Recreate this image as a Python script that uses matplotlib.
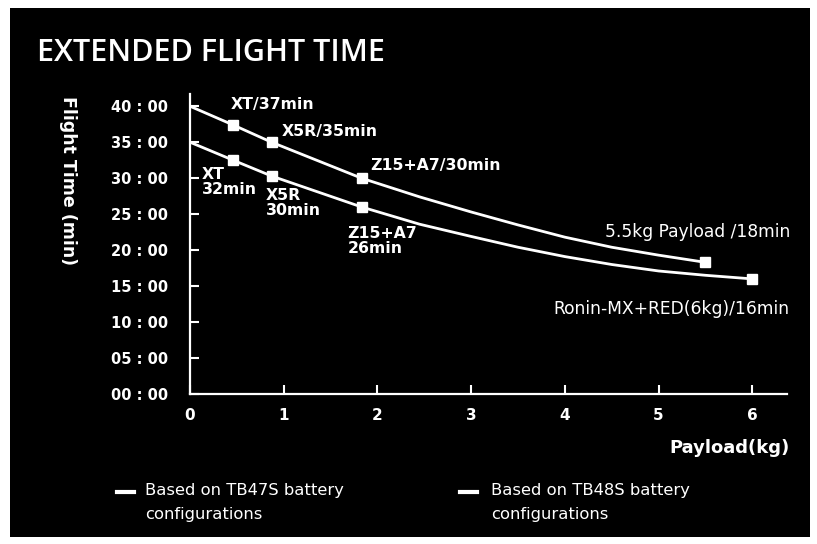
import matplotlib.pyplot as plt
from matplotlib.patches import Rectangle
from matplotlib.lines import Line2D

W, H = 817, 544

# curve samples (payload kg, flight time min)
upper_x = [0, 0.46, 0.87, 1.83, 2.45, 3.0, 3.5, 4.0, 4.5, 5.0, 5.5]
upper_y = [40, 37.4, 35, 30, 27.4, 25.3, 23.5, 21.8, 20.4, 19.3, 18.3]
lower_x = [0, 0.46, 0.87, 1.83, 2.45, 3.0, 3.5, 4.0, 4.5, 5.0, 5.5, 6.0]
lower_y = [35, 32.5, 30.3, 26, 23.6, 21.9, 20.4, 19.1, 18.0, 17.1, 16.5, 16]

# marked points
upper_mark_x = [0.46, 0.87, 1.83, 5.5]
upper_mark_y = [37.4, 35, 30, 18.3]
lower_mark_x = [0.46, 0.87, 1.83, 6.0]
lower_mark_y = [32.5, 30.3, 26, 16]

y_ticks = [0, 5, 10, 15, 20, 25, 30, 35, 40]
y_labels = ['00 : 00', '05 : 00', '10 : 00', '15 : 00', '20 : 00',
            '25 : 00', '30 : 00', '35 : 00', '40 : 00']
x_ticks = [0, 1, 2, 3, 4, 5, 6]

legend_labels = ['Based on TB47S battery\nconfigurations',
                 'Based on TB48S battery\nconfigurations']

fig = plt.figure(figsize=(W / 100, H / 100), dpi=100)
fig.patch.set_facecolor('white')

# black panel
fig.add_artist(Rectangle((10 / W, 1 - 537 / H), 800 / W, 529 / H,
                         transform=fig.transFigure, facecolor='black',
                         edgecolor='none', zorder=0))

ax = fig.add_axes([190 / W, 1 - 394 / H, 597 / W, 300 / H])
ax.set_facecolor('black')
ax.set_xlim(0, 6.37)
ax.set_ylim(0, 41.7)

ax.plot(upper_x, upper_y, color='white', lw=2, solid_joinstyle='round')
ax.plot(lower_x, lower_y, color='white', lw=2, solid_joinstyle='round')
ax.plot(upper_mark_x, upper_mark_y, 's', color='white', ms=7)
ax.plot(lower_mark_x, lower_mark_y, 's', color='white', ms=7)

for s in ['top', 'right']:
    ax.spines[s].set_visible(False)
for s in ['left', 'bottom']:
    ax.spines[s].set_color('white')
    ax.spines[s].set_linewidth(1.6)

ax.set_yticks(y_ticks)
ax.set_yticklabels(y_labels)
ax.set_xticks(x_ticks)
ax.tick_params(axis='both', direction='in', color='white', labelcolor='white',
               length=6.5, width=1.5, labelsize=10.5)
ax.tick_params(axis='y', pad=16)
ax.tick_params(axis='x', pad=10, labelsize=11)
for lab in ax.get_xticklabels() + ax.get_yticklabels():
    lab.set_fontweight('bold')

# point annotations
ann = dict(color='white', fontsize=11.3, fontweight='bold')
ax.text(0.43, 40.3, 'XT/37min', va='center', ha='left', **ann)
ax.text(0.98, 36.5, 'X5R/35min', va='center', ha='left', **ann)
ax.text(1.92, 31.8, 'Z15+A7/30min', va='center', ha='left', **ann)
ax.text(0.13, 31.6, 'XT\n32min', va='top', ha='left', linespacing=1.0, **ann)
ax.text(0.81, 28.7, 'X5R\n30min', va='top', ha='left', linespacing=1.0, **ann)
ax.text(1.68, 23.3, 'Z15+A7\n26min', va='top', ha='left', linespacing=1.0, **ann)
ax.text(6.41, 22.5, '5.5kg Payload /18min', va='center', ha='right',
        color='white', fontsize=12.3)
ax.text(6.40, 11.8, 'Ronin-MX+RED(6kg)/16min', va='center', ha='right',
        color='white', fontsize=12.3)

# titles and axis labels
fig.text(37 / W, 1 - 53 / H, 'EXTENDED FLIGHT TIME', color='white',
         fontsize=22, family='Open Sans', fontweight='semibold', va='center')
fig.text(68 / W, 1 - 181 / H, 'Flight Time (min)', color='white',
         fontsize=12.5, fontweight='bold', rotation=-90, ha='center', va='center')
fig.text(790 / W, 1 - 448 / H, 'Payload(kg)', color='white',
         fontsize=13, fontweight='bold', ha='right', va='center')

# legend drawn by hand
for (lx, tx), label in zip([(117, 145), (460, 491)], legend_labels):
    fig.add_artist(Line2D([lx / W, (lx + 17) / W], [1 - 492 / H, 1 - 492 / H],
                          transform=fig.transFigure, color='white', lw=3))
    fig.text(tx / W, 1 - 483 / H, label, color='white', fontsize=11.8,
             va='top', ha='left', linespacing=1.75)

fig.savefig('out.png', dpi=100, facecolor='white')
